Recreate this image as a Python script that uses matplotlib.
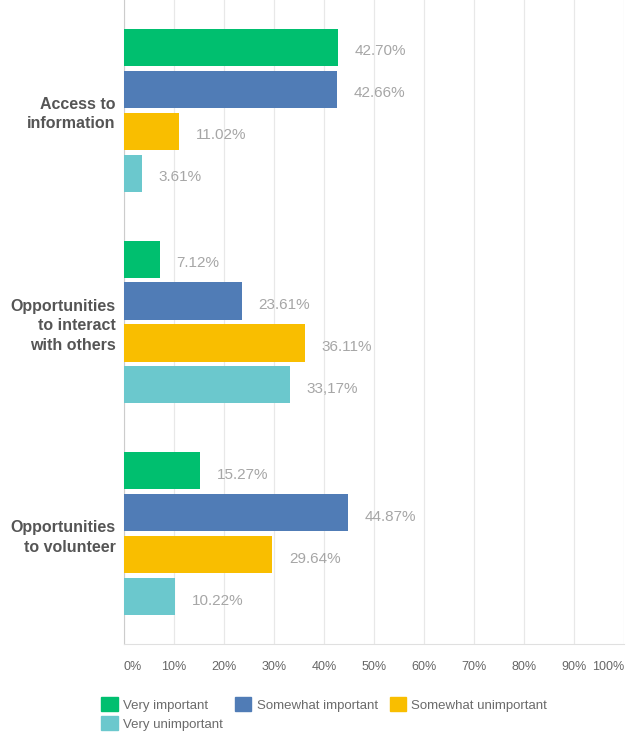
import matplotlib.pyplot as plt
from matplotlib.patches import Patch
import numpy as np

plt.rcParams['font.family'] = ['Liberation Sans', 'DejaVu Sans']

CATEGORIES = ['Access to\ninformation', 'Opportunities\nto interact\nwith others', 'Opportunities\nto volunteer']
SERIES = ['Very important', 'Somewhat important', 'Somewhat unimportant', 'Very unimportant']
VERY_IMP = [42.70, 7.12, 15.27]
SOME_IMP = [42.66, 23.61, 44.87]
SOME_UNIMP = [11.02, 36.11, 29.64]
VERY_UNIMP = [3.61, 33.17, 10.22]
LABELS = [['42.70%', '7.12%', '15.27%'],
          ['42.66%', '23.61%', '44.87%'],
          ['11.02%', '36.11%', '29.64%'],
          ['3.61%', '33,17%', '10.22%']]
XTICKS = [0, 10, 20, 30, 40, 50, 60, 70, 80, 90, 100]

COLORS = ['#00BF6F', '#507CB6', '#F9BE00', '#6BC8CD']

fig = plt.figure(figsize=(6.3, 7.34), dpi=100)
ax = fig.add_axes([124/630, 90/734, 500/630, 644/734])

y = np.arange(len(CATEGORIES))
step = 0.198
h = 0.175
values = [VERY_IMP, SOME_IMP, SOME_UNIMP, VERY_UNIMP]
for i, vals in enumerate(values):
    ypos = y + (i - 1.5) * step
    ax.barh(ypos, vals, height=h, color=COLORS[i], zorder=3)
    for j, v in enumerate(vals):
        ax.annotate(LABELS[i][j], (v, ypos[j]), xytext=(12, -3), textcoords='offset points',
                    ha='left', va='center', fontsize=11, color='#a6a6a6')

ax.set_xlim(0, 100)
ax.set_ylim(2.52, -0.52)
ax.set_yticks(y)
ax.set_yticklabels(CATEGORIES, fontsize=11.5, fontweight='bold', color='#555555', linespacing=1.4)
ax.set_xticks(XTICKS)
ax.set_xticklabels(['%d%%' % t for t in XTICKS], fontsize=9, color='#666666')
tl = ax.get_xticklabels()
tl[0].set_ha('left')
tl[-1].set_ha('right')
ax.tick_params(axis='x', length=0, pad=12)
ax.tick_params(axis='y', length=0, pad=6)
ax.grid(axis='x', color='#e8e8e8', lw=0.9, zorder=0)
for s in ['top', 'right']:
    ax.spines[s].set_visible(False)
ax.spines['left'].set_color('#cccccc')
ax.spines['bottom'].set_color('#e0e0e0')

handles = [Patch(facecolor=c, edgecolor=c) for c in COLORS]
order = [0, 3, 1, 2]
leg = fig.legend([handles[k] for k in order], [SERIES[k] for k in order],
                 loc='upper left', bbox_to_anchor=(96/630, 1 - 692/734), ncol=3,
                 frameon=False, fontsize=9.5, handlelength=1.25, handleheight=1.25,
                 handletextpad=0.4, columnspacing=0.9, labelspacing=0.35, borderaxespad=0)
for t in leg.get_texts():
    t.set_color('#6b6b6b')

fig.savefig('out.png', dpi=100)
